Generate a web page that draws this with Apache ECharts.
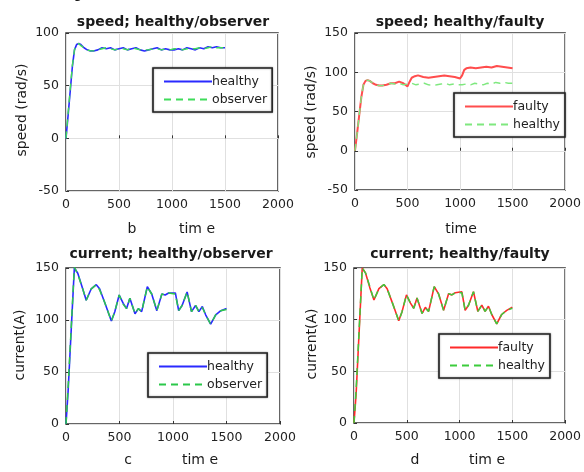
<!DOCTYPE html>
<html>
<head>
<meta charset="utf-8">
<script src="https://cdn.jsdelivr.net/npm/echarts@6/dist/echarts.min.js"></script>
<style>
html,body{margin:0;padding:0;background:#fff;}
#chart{width:584px;height:472px;}
</style>
</head>
<body>
<div id="chart"></div>
<script>
// ---------- data ----------
const xTicks = [0, 500, 1000, 1500, 2000];

const speedTime = [0, 20, 40, 60, 80, 100, 120, 140, 170, 200, 230, 260, 300, 340, 380, 420, 460, 500, 540, 580, 620, 660, 700, 740, 780, 820, 860, 900, 940, 980, 1020, 1060, 1100, 1140, 1180, 1220, 1260, 1300, 1340, 1380, 1420, 1460, 1500];
const speedHealthy = [0, 22, 45, 68, 84, 89, 90, 89, 86, 84, 83, 83, 84, 86, 85, 86, 84, 85, 86, 84, 85, 86, 84, 83, 84, 85, 86, 84, 85, 84, 84, 85, 84, 86, 85, 84, 86, 85, 87, 86, 87, 86, 86];
const speedObserver = [0, 24, 47, 69, 84, 89, 90, 88, 86, 84, 83, 83, 84, 85, 86, 85, 84, 85, 85, 84, 86, 85, 84, 84, 84, 85, 85, 84, 85, 84, 85, 85, 84, 85, 85, 85, 86, 85, 86, 87, 86, 86, 86];

const faultTime = [0, 20, 40, 60, 80, 100, 120, 140, 170, 200, 230, 260, 300, 340, 380, 420, 460, 500, 520, 540, 570, 600, 650, 700, 750, 800, 850, 900, 950, 1000, 1020, 1040, 1060, 1100, 1150, 1200, 1250, 1300, 1350, 1400, 1450, 1500];
const speedFaulty = [0, 22, 45, 68, 84, 89, 90, 89, 86, 84, 83, 83, 84, 86, 86, 88, 86, 82, 88, 93, 95, 96, 94, 93, 94, 95, 96, 95, 94, 92, 96, 103, 105, 106, 105, 106, 107, 106, 108, 107, 106, 105];

const currentTime = [0, 20, 78, 110, 150, 189, 236, 283, 314, 361, 424, 456, 497, 535, 566, 597, 645, 676, 707, 760, 801, 849, 896, 927, 959, 1022, 1053, 1085, 1132, 1173, 1211, 1242, 1274, 1305, 1352, 1399, 1447, 1500];
const currentHealthy = [0, 32, 150, 145, 132, 119, 130, 134, 130, 117, 99, 108, 124, 116, 111, 121, 106, 111, 108, 132, 125, 109, 125, 124, 126, 126, 109, 114, 127, 108, 114, 108, 113, 105, 96, 105, 109, 111];
const currentObserver = [0, 36, 151, 144, 132, 119, 130, 134, 129, 117, 99, 108, 124, 115, 111, 121, 106, 111, 108, 132, 125, 109, 125, 124, 126, 125, 109, 114, 127, 108, 114, 108, 112, 105, 96, 105, 109, 110];
const currentFaulty = [0, 28, 150, 145, 131, 119, 130, 134, 130, 117, 99, 108, 124, 116, 111, 121, 106, 112, 108, 132, 125, 109, 125, 124, 126, 127, 109, 114, 127, 108, 114, 108, 113, 105, 96, 105, 109, 112];

const titles = ['speed; healthy/observer', 'speed; healthy/faulty', 'current; healthy/observer', 'current; healthy/faulty'];
const yNames = ['speed (rad/s)', 'speed (rad/s)', 'current(A)', 'current(A)'];

// ---------- build ----------
function pairs(t, v) { return t.map((x, i) => [x, v[i]]); }

const FONT = 'DejaVu Sans';
const grids = [
  {left: 66, top: 33, width: 212, height: 158},
  {left: 355, top: 33, width: 213, height: 157},
  {left: 66, top: 268, width: 214, height: 156},
  {left: 354, top: 268, width: 215, height: 155}
];
const yRanges = [[-50, 100], [-50, 150], [0, 150], [0, 150]];

const labelStyle = {fontFamily: FONT, fontSize: 12.5, color: '#222', margin: 7, formatter: v => String(v)};

const xAxes = grids.map((g, i) => ({
  type: 'value', gridIndex: i, min: 0, max: 2000, interval: 500,
  axisLine: {show: false},
  axisTick: {show: true, inside: true, length: 3, lineStyle: {color: '#333'}},
  splitLine: {show: true, lineStyle: {color: '#e0e0e0', width: 1}},
  axisLabel: labelStyle
}));
const yAxes = grids.map((g, i) => ({
  type: 'value', gridIndex: i, min: yRanges[i][0], max: yRanges[i][1], interval: 50,
  axisLine: {show: false},
  axisTick: {show: true, inside: true, length: 3, lineStyle: {color: '#333'}},
  splitLine: {show: true, lineStyle: {color: '#e0e0e0', width: 1}},
  axisLabel: labelStyle
}));

function line(name, idx, data, color, dashed, width) {
  return {
    name: name, type: 'line', xAxisIndex: idx, yAxisIndex: idx,
    data: data, symbol: 'none', showSymbol: false,
    lineStyle: {color: color, width: width, type: dashed ? [7, 5] : 'solid'},
    itemStyle: {color: color},
    animation: false
  };
}

const series = [
  line('healthy_a', 0, pairs(speedTime, speedHealthy), '#2a2aff', false, 1.6),
  line('observer_a', 0, pairs(speedTime, speedObserver), '#3fdc5a', true, 1.4),
  line('faulty_b', 1, pairs(faultTime, speedFaulty), '#ff4d4d', false, 2),
  line('healthy_b', 1, pairs(speedTime, speedHealthy), '#7fe87f', true, 1.4),
  line('healthy_c', 2, pairs(currentTime, currentHealthy), '#2a2aff', false, 1.6),
  line('observer_c', 2, pairs(currentTime, currentObserver), '#2bc84a', true, 1.5),
  line('faulty_d', 3, pairs(currentTime, currentFaulty), '#ff2a2a', false, 1.6),
  line('healthy_d', 3, pairs(currentTime, currentHealthy), '#3ccc3c', true, 1.5)
];

function legend(names, left, top) {
  return {
    data: names, orient: 'vertical', left: left, top: top,
    backgroundColor: '#fff', borderColor: '#222', borderWidth: 1.6,
    shadowColor: 'rgba(0,0,0,0.4)', shadowBlur: 2,
    padding: [7, 5, 6, 10], itemGap: 5, itemWidth: 48, itemHeight: 14,
    selectedMode: false,
    itemStyle: {opacity: 0},
    textStyle: {fontFamily: FONT, fontSize: 12.5, color: '#222', padding: [0, 0, 0, -5]},
    formatter: n => n.split('_')[0]
  };
}

const legends = [
  legend(['healthy_a', 'observer_a'], 153, 68),
  legend(['faulty_b', 'healthy_b'], 454, 93),
  legend(['healthy_c', 'observer_c'], 148, 353),
  legend(['faulty_d', 'healthy_d'], 439, 334)
];

function txt(s, x, y, size, bold, rot) {
  return {
    type: 'text', x: x, y: y, rotation: rot || 0,
    style: {text: s, fontFamily: FONT, fontSize: size, fontWeight: bold ? 'bold' : 'normal',
            fill: '#1a1a1a', align: 'center', verticalAlign: 'middle'}
  };
}

const titlePos = [[173, 22], [460, 22], [171, 254], [460, 254]];
const yNamePos = [[22, 110], [311, 112], [20, 345], [312, 344]];
const graphics = [];
titles.forEach((t, i) => graphics.push(txt(t, titlePos[i][0], titlePos[i][1], 14, true)));
yNames.forEach((t, i) => graphics.push(txt(t, yNamePos[i][0], yNamePos[i][1], 14, false, Math.PI / 2)));
graphics.push(txt('b', 132, 229, 14, false));
graphics.push(txt('tim e', 197, 229, 14, false));
graphics.push(txt('time', 461, 229, 14, false));
graphics.push(txt('c', 128, 460, 14, false));
graphics.push(txt('tim e', 200, 460, 14, false));
graphics.push(txt('d', 415, 460, 14, false));
graphics.push(txt('tim e', 487, 460, 14, false));
graphics.push(txt('g', 78, -6, 14, false));

const chart = echarts.init(document.getElementById('chart'), null, {renderer: 'canvas'});
chart.setOption({
  backgroundColor: '#fff',
  animation: false,
  grid: grids.map(g => Object.assign({show: true, borderColor: '#333', borderWidth: 1.5, backgroundColor: '#fff'}, g)),
  xAxis: xAxes,
  yAxis: yAxes,
  legend: legends,
  series: series,
  graphic: graphics
});
</script>
</body>
</html>
